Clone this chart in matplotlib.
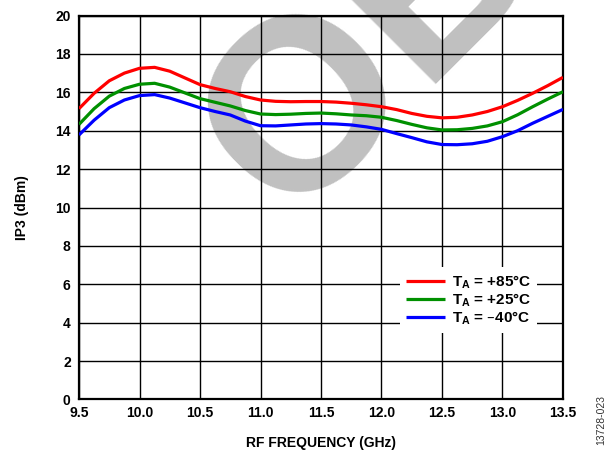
import matplotlib
matplotlib.use('Agg')
import matplotlib.pyplot as plt
from matplotlib.ticker import MultipleLocator

plt.rcParams['font.family'] = ['Liberation Sans', 'DejaVu Sans']
plt.rcParams['font.weight'] = 'bold'
plt.rcParams['mathtext.default'] = 'regular'

# RF frequency (GHz) and IP3 (dBm) for each temperature
freq = [9.5, 9.625, 9.75, 9.875, 10.0, 10.125, 10.25, 10.375, 10.5, 10.625,
        10.75, 10.875, 11.0, 11.125, 11.25, 11.375, 11.5, 11.625, 11.75, 11.875,
        12.0, 12.125, 12.25, 12.375, 12.5, 12.625, 12.75, 12.875, 13.0, 13.125,
        13.25, 13.375, 13.5]
ip3_p85 = [15.15, 15.95, 16.6, 17.0, 17.25, 17.3, 17.1, 16.75, 16.4, 16.2,
           16.03, 15.78, 15.6, 15.53, 15.51, 15.52, 15.52, 15.49, 15.43, 15.35,
           15.25, 15.1, 14.9, 14.75, 14.67, 14.7, 14.82, 15.0, 15.25, 15.58,
           15.95, 16.35, 16.78]
ip3_p25 = [14.33, 15.15, 15.8, 16.2, 16.42, 16.47, 16.27, 15.97, 15.67, 15.48,
           15.29, 15.05, 14.87, 14.84, 14.86, 14.9, 14.92, 14.88, 14.82, 14.78,
           14.7, 14.53, 14.33, 14.15, 14.04, 14.05, 14.12, 14.25, 14.47, 14.83,
           15.25, 15.65, 16.03]
ip3_m40 = [13.78, 14.55, 15.2, 15.6, 15.83, 15.88, 15.7, 15.45, 15.2, 15.0,
           14.82, 14.5, 14.26, 14.25, 14.3, 14.35, 14.37, 14.35, 14.3, 14.2,
           14.07, 13.85, 13.64, 13.42, 13.28, 13.27, 13.32, 13.45, 13.69, 14.0,
           14.39, 14.75, 15.11]

labels = [r'T$_A$ = +85°C', r'T$_A$ = +25°C', r'T$_A$ = –40°C']
colors = ['#ff0000', '#009000', '#0000ff']

fig = plt.figure(figsize=(6.06, 4.51), dpi=100)
ax = fig.add_axes([0.1304, 0.1142, 0.7986, 0.8514])

# grey OBSOLETE stamp behind the grid
ax.text(0.474, 0.506, 'OBSOLETE', transform=fig.transFigure, fontsize=176,
        fontweight='bold', color='#c0c0c0', rotation=45, rotation_mode='anchor',
        ha='left', va='baseline', zorder=0.5, clip_on=False)

for y, c, lab in zip([ip3_p85, ip3_p25, ip3_m40], colors, labels):
    ax.plot(freq, y, color=c, lw=2.3, label=lab, zorder=3, solid_capstyle='butt')

ax.set_xlim(9.5, 13.5)
ax.set_ylim(0, 20)
ax.xaxis.set_major_locator(MultipleLocator(0.5))
ax.yaxis.set_major_locator(MultipleLocator(2))
ax.xaxis.set_major_formatter(matplotlib.ticker.FormatStrFormatter('%.1f'))
ax.grid(True, color='black', lw=1.0)
ax.tick_params(length=0, labelsize=10)
ax.tick_params(axis='y', pad=6)
ax.tick_params(axis='x', pad=5)
for s in ax.spines.values():
    s.set_linewidth(1.6)

ax.set_xlabel('RF FREQUENCY (GHz)', fontsize=10, fontweight='bold', labelpad=11)
ax.set_ylabel('IP3 (dBm)', fontsize=10, fontweight='bold', labelpad=19)

leg = ax.legend(loc='upper left', bbox_to_anchor=(0.664, 0.345), fontsize=11,
                frameon=True, fancybox=False, edgecolor='none', framealpha=1,
                handlelength=2.5, handletextpad=0.45, labelspacing=0.05,
                borderpad=0.4, borderaxespad=0)
leg.set_zorder(4)
for h in leg.get_lines():
    h.set_linewidth(2.3)

fig.text(0.9915, 0.069, '13728-023', rotation=90, fontsize=7.5, fontweight='normal',
         color='#333333', ha='center', va='center')

fig.savefig('out.png', dpi=100)
